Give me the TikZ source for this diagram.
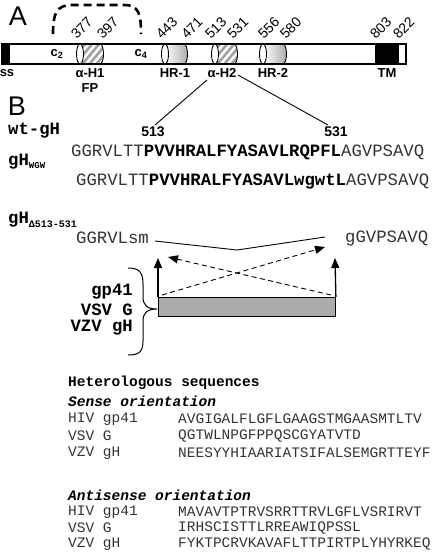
\documentclass[tikz,border=0pt]{standalone}
\usepackage{fontspec}
\setmainfont{Liberation Sans}
\newfontfamily\mono{Liberation Mono}
\usetikzlibrary{arrows.meta}
\begin{document}
\begin{tikzpicture}[x=1pt,y=-1pt,
  num/.style={font=\fontsize{14}{14}\selectfont, rotate=45, anchor=south west, inner sep=0pt},
  lbl/.style={font=\bfseries\fontsize{13}{13}\selectfont, inner sep=0pt},
  big/.style={font=\fontsize{27}{27}\selectfont, inner sep=0pt},
  seq/.style={font=\mono\fontsize{17.3}{20}\selectfont, anchor=west, inner sep=0pt, text=black!80},
  tag/.style={font=\mono\bfseries\fontsize{17.3}{20}\selectfont, inner sep=0pt},
  het/.style={font=\mono\fontsize{14.5}{16}\selectfont, anchor=west, inner sep=0pt, text=black!80},
  hethead/.style={font=\mono\bfseries\fontsize{14.5}{16}\selectfont, anchor=west, inner sep=0pt},
  capell/.style={draw=black, fill=white, line width=0.9pt},
  arrowtip/.style={-{Triangle[width=8pt,length=10pt]}},
]
\useasboundingbox (0,0) rectangle (432,558);
% ---- panel A ----
\node[big] (A) at (18,16) {A};
\draw[line width=2.6pt, dash pattern=on 8pt off 5pt]
  (53,34) .. controls (53,14) and (56,5) .. (72,5) -- (124,5) .. controls (139,5) and (141,14) .. (141,34);
\fill[white] (2,44) rectangle (406,64);
\fill[black] (2,44) rectangle (10,64);
\fill[black] (375,44) rectangle (399,64);
% alpha-H1 hatched
\begin{scope}
  \clip (80,44) -- (100,44) arc[start angle=90,end angle=-90,x radius=3.5pt,y radius=10pt] -- (80,64) -- cycle;
  \fill[gray!75] (70,40) rectangle (110,70);
  \foreach \k in {60,67,...,130} \draw[white, line width=2.6pt] (\k,70) -- (\k+25,40);
\end{scope}
\draw[line width=0.9pt] (100,44) arc[start angle=90,end angle=-90,x radius=3.5pt,y radius=10pt];
\draw[capell] (80,54) ellipse[x radius=3.5pt, y radius=10pt];
% HR-1
\shade[left color=white, right color=gray!65] (165,44) -- (184,44) arc[start angle=90,end angle=-90,x radius=3.5pt,y radius=10pt] -- (165,64) -- cycle;
\draw[line width=0.9pt] (184,44) arc[start angle=90,end angle=-90,x radius=3.5pt,y radius=10pt];
\draw[capell] (165,54) ellipse[x radius=3.5pt, y radius=10pt];
% alpha-H2 hatched
\begin{scope}
  \clip (215,44) -- (234,44) arc[start angle=90,end angle=-90,x radius=3.5pt,y radius=10pt] -- (215,64) -- cycle;
  \fill[gray!75] (205,40) rectangle (245,70);
  \foreach \k in {195,202,...,265} \draw[white, line width=2.6pt] (\k,70) -- (\k+25,40);
\end{scope}
\draw[line width=0.9pt] (234,44) arc[start angle=90,end angle=-90,x radius=3.5pt,y radius=10pt];
\draw[capell] (215,54) ellipse[x radius=3.5pt, y radius=10pt];
% HR-2
\shade[left color=white, right color=gray!65] (263,44) -- (283,44) arc[start angle=90,end angle=-90,x radius=3.5pt,y radius=10pt] -- (263,64) -- cycle;
\draw[line width=0.9pt] (283,44) arc[start angle=90,end angle=-90,x radius=3.5pt,y radius=10pt];
\draw[capell] (263,54) ellipse[x radius=3.5pt, y radius=10pt];
% bar outline
\draw[line width=1.1pt] (2,44) rectangle (406,64);
% labels on bar
\node[lbl] (c2) at (57,54) {c\textsubscript{2}};
\node[lbl] (c4) at (141,54) {c\textsubscript{4}};
% numbers
\node[num] (n377) at (77,40) {377};
\node[num] (n397) at (103,40) {397};
\node[num] (n443) at (162,40) {443};
\node[num] (n471) at (187,40) {471};
\node[num] (n513) at (211,40) {513};
\node[num] (n531) at (233,40) {531};
\node[num] (n556) at (264,40) {556};
\node[num] (n580) at (286,40) {580};
\node[num] (n803) at (376,40) {803};
\node[num] (n822) at (399,40) {822};
% labels below bar
\node[lbl] (ss) at (7,73) {ss};
\node[lbl] (aH1) at (90,73) {α-H1};
\node[lbl] (FP) at (90,88) {FP};
\node[lbl] (HR1) at (175,73) {HR-1};
\node[lbl] (aH2) at (222,73) {α-H2};
\node[lbl] (HR2) at (273,73) {HR-2};
\node[lbl] (TM) at (387,73) {TM};
% ---- panel B ----
\node[big] (B) at (17,106) {B};
\node[font=\bfseries\fontsize{14}{14}\selectfont, inner sep=0pt] (p513) at (153,132) {513};
\node[font=\bfseries\fontsize{14}{14}\selectfont, inner sep=0pt] (p531) at (336,132) {531};
\coordinate (la) at (207,80);
\coordinate (lb) at (155,125);
\coordinate (ra) at (238,75);
\coordinate (rb) at (328,125);
\draw[line width=0.9pt] (la) -- (lb);
\draw[line width=0.9pt] (ra) -- (rb);
\node[tag, anchor=west] (wt) at (8,131) {wt-gH};
\node[seq] (s1) at (71,152) {GGRVLTT\textbf{\color{black}PVVHRALFYASAVLRQPFL}AGVPSAVQ};
\node[tag, anchor=west] (wgw) at (8,162) {gH\raisebox{-3pt}{\fontsize{9}{9}\selectfont WGW}};
\node[seq] (s2) at (76,182) {GGRVLTT\textbf{\color{black}PVVHRALFYASAVLwgwtL}AGVPSAVQ};
\node[tag, anchor=west] (del) at (8,220) {gH\raisebox{-4pt}{\fontsize{10}{10}\selectfont Δ513-531}};
\node[seq] (s3a) at (76,238) {GGRVLsm};
\node[seq] (s3b) at (345,238) {gGVPSAVQ};
\coordinate (j1) at (155,241);
\coordinate (j2) at (237,250);
\coordinate (j3) at (325,237);
\draw[line width=0.9pt] (j1) -- (j2) -- (j3);
% insertion box and arrows
\node[draw=black, line width=0.9pt, fill=gray!90!black!60, minimum width=177pt, minimum height=19pt, inner sep=0pt, anchor=north west] (ins) at (158,297) {};
\coordinate (up1) at (158,258);
\coordinate (up2) at (335,258);
\draw[arrowtip, line width=1.3pt] (ins.north west) -- (up1);
\draw[arrowtip, line width=1.3pt] (ins.north east) -- (up2);
\coordinate (d1s) at (162,295);
\coordinate (d1e) at (325,247);
\coordinate (d2s) at (331,295);
\coordinate (d2e) at (168,257);
\draw[arrowtip, dash pattern=on 5pt off 3.5pt, line width=0.9pt] (d1s) -- (d1e);
\draw[arrowtip, dash pattern=on 5pt off 3.5pt, line width=0.9pt] (d2s) -- (d2e);
% brace
\draw[line width=1pt] (128,268) .. controls (139,268) and (143,272) .. (143,284) -- (143,297)
  .. controls (143,305) and (147,309) .. (157,309)
  .. controls (147,309) and (143,313) .. (143,321) -- (143,341)
  .. controls (143,352) and (139,355) .. (128,355);
\node[tag, anchor=east] (g41) at (133,292) {gp41};
\node[tag, anchor=east] (vsv) at (133,310) {VSV G};
\node[tag, anchor=east] (vzv) at (133,328) {VZV gH};
% heterologous sequences
\node[hethead] (hh) at (68,383) {Heterologous sequences};
\node[hethead] (sh) at (68,401) {\itshape Sense orientation};
\node[het] (l1) at (68,419) {HIV gp41};
\node[het] (q1) at (178,419) {AVGIGALFLGFLGAAGSTMGAASMTLTV};
\node[het] (l2) at (68,436) {VSV G};
\node[het] (q2) at (178,436) {QGTWLNPGFPPQSCGYATVTD};
\node[het] (l3) at (68,453) {VZV gH};
\node[het] (q3) at (178,453) {NEESYYHIAARIATSIFALSEMGRTTEYF};
\node[hethead] (ah) at (68,495) {\itshape Antisense orientation};
\node[het] (l4) at (68,512) {HIV gp41};
\node[het] (q4) at (178,512) {MAVAVTPTRVSRRTTRVLGFLVSRIRVT};
\node[het] (l5) at (68,528) {VSV G};
\node[het] (q5) at (178,528) {IRHSCISTTLRREAWIQPSSL};
\node[het] (l6) at (68,544) {VZV gH};
\node[het] (q6) at (178,544) {FYKTPCRVKAVAFLTTPIRTPLYHYRKEQ};
\end{tikzpicture}
\end{document}
